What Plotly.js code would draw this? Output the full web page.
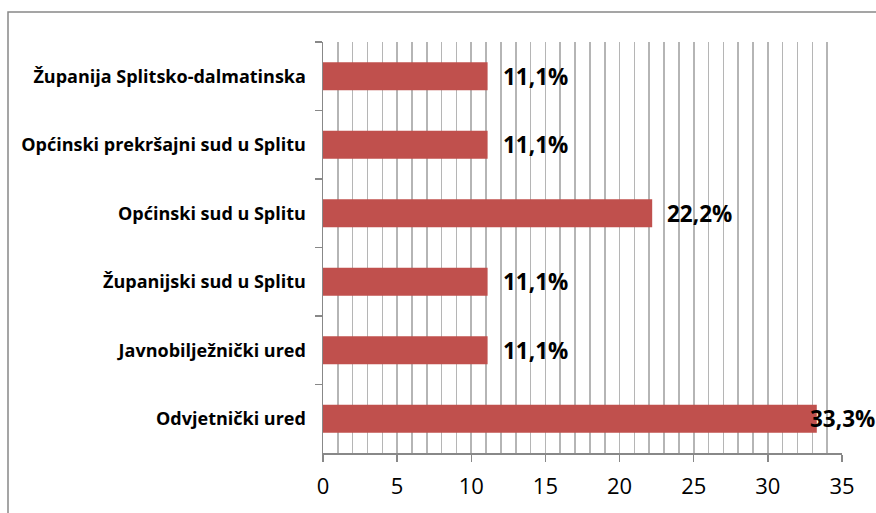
<!DOCTYPE html>
<html><head><meta charset="utf-8">
<script src="https://cdn.plot.ly/plotly-3.0.1.min.js"></script>
<style>html,body{margin:0;padding:0;background:#fff}#chart{width:876px;height:513px}</style>
</head><body><div id="chart"></div>
<script>
const categories = ["Županija Splitsko-dalmatinska","Općinski prekršajni sud u Splitu","Općinski sud u Splitu","Županijski sud u Splitu","Javnobilježnički ured","Odvjetnički ured"];
const values = [11.1, 11.1, 22.2, 11.1, 11.1, 33.3];
const valueLabels = ["11,1%","11,1%","22,2%","11,1%","11,1%","33,3%"];
const xTicks = [0,5,10,15,20,25,30,35];

const L=323, R=34, T=42, B=60, W=876, H=513;
const pw = W-L-R, ph = H-T-B;
const annotations = categories.map((c,i)=>({
  x: values[i], y: c, xref:'x', yref:'y', text: valueLabels[i], showarrow:false,
  xanchor:'left', yanchor:'middle', xshift: values[i] > 30 ? -9 : 13, yshift:0,
  font:{family:'Open Sans, sans-serif', size:22.5, color:'#000', weight:'bold'}
}));
Plotly.newPlot('chart', [{
  type:'bar', orientation:'h', y: categories, x: values,
  marker:{color:'#C0504D'}, width:0.41, hoverinfo:'none'
}], {
  width:W, height:H, margin:{l:L, r:R, t:T, b:B}, showlegend:false,
  paper_bgcolor:'#fff', plot_bgcolor:'#fff',
  xaxis:{range:[0,35], tickvals:xTicks, ticktext:xTicks.map(String), showgrid:true, gridcolor:'#b5b5b5', gridwidth:1.6,
    minor:{dtick:1, tick0:0, showgrid:true, gridcolor:'#b5b5b5', gridwidth:1.6},
    ticks:'outside', ticklen:7, tickcolor:'#888', tickwidth:1.5, showline:true, linecolor:'#888', linewidth:1.5,
    zeroline:false, ticklabelstandoff:6, tickfont:{family:'Open Sans, sans-serif', size:22, color:'#000'}},
  yaxis:{type:'category', autorange:'reversed', tickson:'boundaries', ticks:'outside', ticklen:7, tickcolor:'#888', tickwidth:1.5,
    showline:true, linecolor:'#888', linewidth:1.5, showgrid:false, zeroline:false, ticklabelstandoff:12,
    tickfont:{family:'Open Sans, sans-serif', size:18, color:'#000', weight:'bold'}},
  annotations: annotations,
  shapes:[{type:'rect', xref:'paper', yref:'paper',
    x0:(8-L)/pw, x1:(W+5-L)/pw, y0:(H-B-(H+5))/ph, y1:(H-B-12)/ph,
    line:{color:'#888', width:1.5}, fillcolor:'rgba(0,0,0,0)', layer:'below'}]
}, {staticPlot:true});
</script></body></html>
